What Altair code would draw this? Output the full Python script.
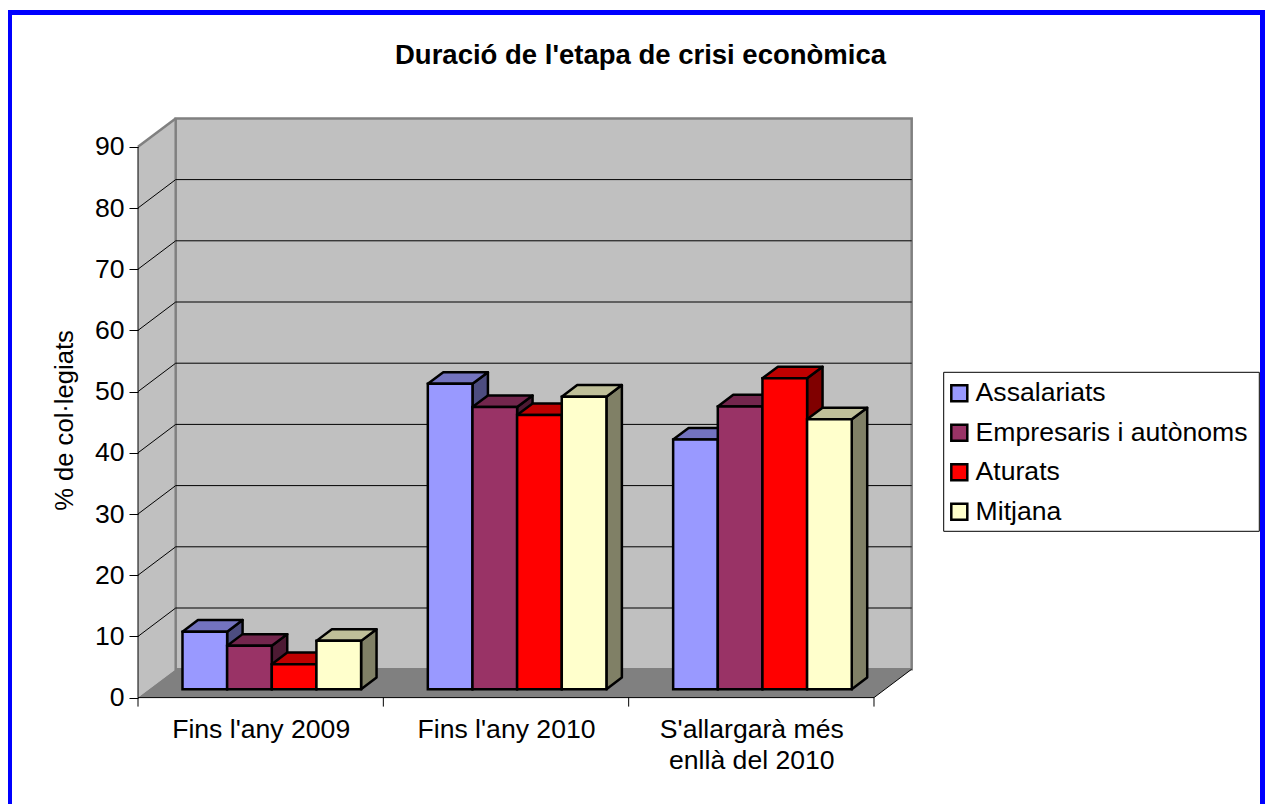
import json
import altair as alt
import pandas as pd

# ---- data ----
categories = ["Fins l'any 2009", "Fins l'any 2010", ["S'allargarà més", "enllà del 2010"]]
series = ["Assalariats", "Empresaris i autònoms", "Aturats", "Mitjana"]
assalariats = [9.4, 49.9, 40.8]
empresaris = [7.1, 46.1, 46.2]
aturats = [4.1, 44.8, 50.8]
mitjana = [7.9, 47.8, 44.1]
values = [assalariats, empresaris, aturats, mitjana]
y_ticks = [0, 10, 20, 30, 40, 50, 60, 70, 80, 90]
title_text = "Duració de l'etapa de crisi econòmica"
y_title = "% de col·legiats"
front_colors = ["#9999FF", "#993366", "#FF0000", "#FFFFCC"]
top_colors = ["#7373BF", "#73264D", "#BF0000", "#BFBF99"]
side_colors = ["#4D4D80", "#4D1A33", "#800000", "#808066"]

# ---- geometry of the oblique projection ----
W, H = 1257, 796
PX_Y = 6.12          # pixels per percent
PX_X = 245.33        # pixels per category
X0, Y0 = 130.0, 689.6   # origin (group pixels)
DX = 37.7 / PX_X     # depth of the box in category units
DY = 28.4 / PX_Y     # depth of the box in percent units
FRONT = 0.295        # bar front plane as a fraction of the depth
BAR_D = 0.41         # bar depth as a fraction of the depth
BAR_W = 44.65 / PX_X
GROUP_START = (1 - 4 * BAR_W) / 2
FONT = "Liberation Sans"
FS = 26.6

xscale = alt.Scale(domain=[(0 - X0) / PX_X, (W - X0) / PX_X], range=[0, W], nice=False, zero=False)
yscale = alt.Scale(domain=[(Y0 - H) / PX_Y, Y0 / PX_Y], range=[H, 0], nice=False, zero=False)

label_expr = json.dumps(categories, ensure_ascii=False) + "[floor(datum.value)]"
x_axis = alt.Axis(
    values=[0.5, 1.5, 2.5], labelExpr=label_expr, offset=-(H - Y0), tickSize=0, domain=False, grid=False,
    title=None, labelFont=FONT, labelFontSize=FS, labelColor="black", labelPadding=19, labelAlign="center",
    labelBaseline="top", labelLineHeight=31, labelOverlap=False, labelBound=False, labelFlush=False,
    labelLimit=500, zindex=2)
y_axis = alt.Axis(
    values=y_ticks, offset=-X0, tickSize=9, tickColor="black", domain=False, grid=False, title=y_title,
    titleFont=FONT, titleFontSize=25.6, titleFontWeight="normal", titleColor="black", titleX=-61, titleY=412,
    labelFont=FONT, labelFontSize=FS, labelColor="black", labelPadding=5, labelOverlap=False, labelBound=False,
    labelFlush=False, zindex=2)
X = lambda f="x": alt.X(f, type="quantitative", scale=xscale, axis=x_axis)
Y = lambda f="y": alt.Y(f, type="quantitative", scale=yscale, axis=y_axis)

# frame: blue border, bottom edge beyond the picture
one = pd.DataFrame({"a": [0]})
frame = alt.Chart(one).mark_rect(fill="white", stroke="#0000FF", strokeWidth=5).encode(
    x=alt.value(1.5), x2=alt.value(1254.5), y=alt.value(4.5), y2=alt.value(H + 30))
legend_box = alt.Chart(one).mark_rect(fill="white", stroke="black", strokeWidth=1).encode(
    x=alt.value(935.7), x2=alt.value(1251.3), y=alt.value(364.3), y2=alt.value(523.3))

left_wall = alt.Chart(pd.DataFrame({"x": [0, DX], "y": [0, DY], "y2": [90, 90 + DY]})).mark_area(
    fill="#C0C0C0", opacity=1).encode(x=X(), y=Y(), y2="y2")
back_wall = alt.Chart(pd.DataFrame({"x": [DX], "x2": [3 + DX], "y": [DY], "y2": [90 + DY]})).mark_rect(
    fill="#C0C0C0", stroke="#808080", strokeWidth=2.5).encode(x=X(), x2="x2", y=Y(), y2="y2")
floor = alt.Chart(pd.DataFrame({"x": [0, DX, 3, 3 + DX], "y": [0, 0, 0, DY], "y2": [0, DY, DY, DY]})).mark_area(
    fill="#808080", opacity=1).encode(x=X(), y=Y(), y2="y2")

grid_rows = []
for v in y_ticks[1:-1]:
    grid_rows += [{"v": v, "x": 0, "y": v}, {"v": v, "x": DX, "y": v + DY}, {"v": v, "x": 3 + DX, "y": v + DY}]
grid = alt.Chart(pd.DataFrame(grid_rows)).mark_line(color="black", strokeWidth=1).encode(
    x=X(), y=Y(), detail="v:N")

top_edge = alt.Chart(pd.DataFrame({"x": [0, DX], "y": [90, 90 + DY]})).mark_line(
    color="#808080", strokeWidth=2.5).encode(x=X(), y=Y())
front_edge = alt.Chart(pd.DataFrame({"x": [0, 3, 3 + DX], "y": [0, 0, DY]})).mark_line(
    color="black", strokeWidth=1).encode(x=X(), y=Y())
left_edge = alt.Chart(pd.DataFrame({"x": [0], "y": [0], "y2": [90]})).mark_rule(
    color="black", strokeWidth=1).encode(x=X(), y=Y(), y2="y2")
x_ticks = alt.Chart(pd.DataFrame({"x": [0, 1, 2, 3], "y": [0] * 4, "y2": [-9 / PX_Y] * 4})).mark_rule(
    color="black", strokeWidth=1).encode(x=X(), y=Y(), y2="y2")

# bars: drawn series by series, left to right, so each hides the side of the one before
fx = FRONT * DX
fy = FRONT * DY
bx = BAR_D * DX
by = BAR_D * DY
bar_layers = []
for s, name in enumerate(series):
    fr, sd, tp = [], [], []
    for g in range(3):
        v = values[s][g]
        xl = g + GROUP_START + s * BAR_W + fx
        xr = xl + BAR_W
        fr.append({"series": name, "x": xl, "x2": xr, "y": fy, "y2": v + fy})
        sd += [{"g": g, "x": xr, "y": fy, "y2": v + fy}, {"g": g, "x": xr + bx, "y": fy + by, "y2": v + fy + by}]
        tp += [{"g": g, "x": xl, "y": v + fy, "y2": v + fy},
               {"g": g, "x": xl + bx, "y": v + fy, "y2": v + fy + by},
               {"g": g, "x": xr, "y": v + fy, "y2": v + fy + by},
               {"g": g, "x": xr + bx, "y": v + fy + by, "y2": v + fy + by}]
    bar_layers.append(alt.Chart(pd.DataFrame(sd)).mark_area(
        fill=side_colors[s], stroke="black", strokeWidth=2.5, opacity=1, strokeJoin="round").encode(
        x=X(), y=Y(), y2="y2", detail="g:N"))
    bar_layers.append(alt.Chart(pd.DataFrame(tp)).mark_area(
        fill=top_colors[s], stroke="black", strokeWidth=2.5, opacity=1, strokeJoin="round").encode(
        x=X(), y=Y(), y2="y2", detail="g:N"))
    bar_layers.append(alt.Chart(pd.DataFrame(fr)).mark_rect(stroke="black", strokeWidth=2.5, opacity=1).encode(
        x=X(), x2="x2", y=Y(), y2="y2",
        color=alt.Color("series:N", scale=alt.Scale(domain=series, range=front_colors), sort=series,
                        legend=alt.Legend(
            orient="none", legendX=938, legendY=372, title=None, padding=0,
            symbolType="square", symbolSize=256, symbolStrokeColor="black", symbolStrokeWidth=2.5,
            symbolOpacity=1, labelFont=FONT, labelFontSize=FS, labelColor="black", labelOffset=3, rowPadding=12.5,
            labelLimit=400))))

chart = alt.layer(frame, legend_box, left_wall, back_wall, floor, grid, top_edge, front_edge, left_edge, x_ticks,
                  *bar_layers).properties(
    width=W, height=H, padding=0,
    autosize=alt.AutoSizeParams(type="none", contains="padding"),
    background="white",
    title=alt.TitleParams(title_text, font=FONT, fontSize=27.5, fontWeight="bold", color="black",
                          anchor="middle", frame="group", dx=4, dy=65),
).configure_view(stroke=None)

chart.save("out.html", embed_options={"renderer": "svg", "actions": False})
